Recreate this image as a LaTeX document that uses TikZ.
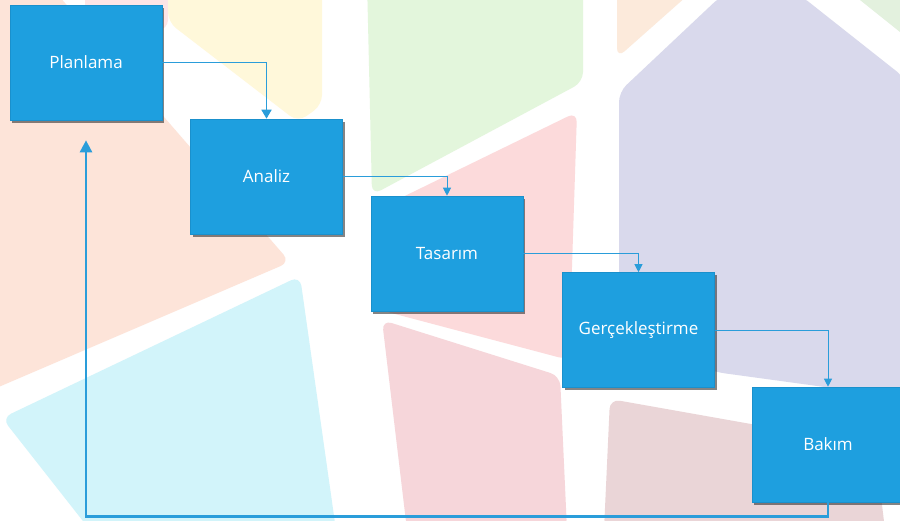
\documentclass[tikz,border=0pt]{standalone}
\usepackage{fontspec}
\setmainfont{Open Sans}
\usetikzlibrary{arrows.meta,shadows}
\definecolor{boxblue}{HTML}{1E9FDF}
\definecolor{boxedge}{HTML}{1A90CC}
\definecolor{linkblue}{HTML}{2A9DDA}
\definecolor{bgpeach}{HTML}{FDE4D9}
\definecolor{bgyellow}{HTML}{FFF8DA}
\definecolor{bggreen}{HTML}{E3F6DC}
\definecolor{bgred}{HTML}{FCDADB}
\definecolor{bgpink}{HTML}{F6D6DA}
\definecolor{bgrose}{HTML}{EAD5D7}
\definecolor{bglav}{HTML}{D9D9EC}
\definecolor{bgcyan}{HTML}{D2F4FA}
\definecolor{bgorange}{HTML}{FCEADB}
\definecolor{bggreentwo}{HTML}{E3F1DE}
\begin{document}
\begin{tikzpicture}[x=1pt,y=-1pt,
  stage/.style={rectangle, fill=boxblue, draw=boxedge, line width=0.6pt,
    minimum width=152pt, minimum height=115pt, inner sep=0pt,
    text=white, font=\fontsize{17}{20}\selectfont,
    drop shadow={shadow xshift=2pt, shadow yshift=-2.8pt, opacity=0.6, fill=black!80}},
  bgshape/.style={rounded corners=10pt},
  linkthin/.style={draw=linkblue, line width=1pt, -{Triangle[width=8pt,length=8pt]}},
  linkmid/.style={draw=linkblue, line width=1.6pt, -{Triangle[width=10pt,length=9pt]}},
  linkback/.style={draw=linkblue, line width=2.6pt, -{Triangle[width=12pt,length=12pt]}}
]
\useasboundingbox (0,0) rectangle (900,520);
\clip (0,0) rectangle (900,520);
\fill[white] (0,0) rectangle (900,520);
% background shapes
\fill[bgpeach, bgshape] (-20,-20) -- (45,-20) -- (290,262) -- (-20,395) -- cycle;
\fill[bgred!70, bgshape] (85,-20) -- (168,-20) -- (168,30) -- (85,30) -- cycle;
\fill[bgyellow, bgshape] (168,-20) -- (322,-20) -- (322,105) -- (298,122) -- (168,22) -- cycle;
\fill[bggreen, bgshape] (367,-20) -- (583,-20) -- (583,82) -- (372,195) -- cycle;
\fill[bgred, bgshape] (372,212) -- (577,112) -- (569,360) -- (380,310) -- cycle;
\fill[bgorange, bgshape] (617,-20) -- (705,-20) -- (617,58) -- cycle;
\fill[bggreentwo, bgshape] (835,-20) -- (920,-20) -- (920,48) -- cycle;
\fill[bglav, bgshape] (619,92) -- (722,-5) -- (800,-5) -- (905,78) -- (905,398) -- (715,372) -- (619,335) -- cycle;
\fill[bgcyan, bgshape] (2,418) -- (300,276) -- (336,530) -- (90,530) -- cycle;
\fill[bgpink, bgshape] (382,320) -- (560,376) -- (567,530) -- (407,530) -- cycle;
\fill[bgrose, bgshape] (610,399) -- (875,446) -- (885,530) -- (604,530) -- cycle;
% stages
\node[stage] (plan)    at (86,62.5)    {Planlama};
\node[stage] (analiz)  at (266.5,176.5) {Analiz};
\node[stage] (tasarim) at (447,253.5)  {Tasarım};
\node[stage] (gercek)  at (638.5,330)  {Gerçekleştirme};
\node[stage] (bakim)   at (828,444.5)  {Bakım};
% connectors
\draw[linkmid]  (plan.east) -| (analiz.north);
\draw[linkthin] (analiz.east) -| (tasarim.north);
\draw[linkthin] (tasarim.east) -| (gercek.north);
\draw[linkthin] (gercek.east) -| (bakim.north);
\draw[linkback] (bakim.south) -- ++(0,14) -| ([yshift=-20pt]plan.south);
\end{tikzpicture}
\end{document}
